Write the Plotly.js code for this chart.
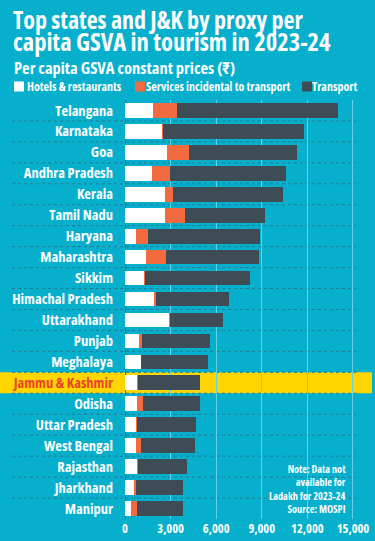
<!DOCTYPE html>
<html>
<head>
<meta charset="utf-8">
<script src="https://cdn.plot.ly/plotly-3.0.1.min.js"></script>
<style>
html,body{margin:0;padding:0;background:#06afcc;}
#chart{width:375px;height:541px;}
text, tspan{font-stretch:condensed !important;}
</style>
</head>
<body>
<div id="chart"></div>
<script>
var categories = ["Telangana","Karnataka","Goa","Andhra Pradesh","Kerala","Tamil Nadu","Haryana","Maharashtra","Sikkim","Himachal Pradesh","Uttarakhand","Punjab","Meghalaya","Jammu & Kashmir","Odisha","Uttar Pradesh","West Bengal","Rajasthan","Jharkhand","Manipur"];
var hotels    = [1850, 2460, 2770, 1800, 2640, 2640, 720, 1360, 1250, 1930, 2900, 920, 1040, 770, 810, 750, 700, 810, 570, 420];
var services  = [1550,   70, 1450, 1140,  500, 1290, 790, 1340,   40,   90,   60, 190,    0,  60, 380,  20, 330,  20, 130, 350];
var transport = [10590, 9260, 7130, 7670, 7270, 5290, 7360, 6130, 6920, 4810, 3470, 4490, 4410, 4110, 3730, 3910, 3580, 3270, 3140, 3070];
var xTicks = [0, 3000, 6000, 9000, 12000, 15000];
var highlight = "Jammu & Kashmir";
var seriesNames = ["Hotels & restaurants", "Services incidental to transport", "Transport"];
var noteLines = ["Note: Data not", "available for", "Ladakh for 2023-24", "Source: MOSPI"];

var FONT = "Open Sans, Roboto Condensed, DejaVu Sans Condensed, sans-serif";
var BG = "#06afcc";
var C_WHITE = "#ffffff", C_ORANGE = "#f26a3f", C_DARK = "#3e4c55";
var colors = [C_WHITE, C_ORANGE, C_DARK];

var W = 375, H = 541, ML = 125, MR = 19, MT = 100, MB = 22;
var PW = W - ML - MR, PH = H - MT - MB;
function px(x){ return (x - ML) / PW; }
function py(y){ return (H - MB - y) / PH; }

var vals = [hotels, services, transport];
var traces = vals.map(function(v, i){
  return {
    type: "bar", orientation: "h",
    y: categories, x: v, name: seriesNames[i],
    marker: {color: colors[i], line: {width: 0}},
    showlegend: false, hoverinfo: "x+y"
  };
});

var ticktext = categories.map(function(c){
  return c === highlight ? '<span style="color:#e8452c">' + c.replace("&","&amp;") + '</span>' : c.replace("&","&amp;");
});

var shapes = [];
var hi = categories.indexOf(highlight);
shapes.push({type:"rect", layer:"below", xref:"paper", yref:"y", x0:px(0), x1:px(372), y0:hi-0.5, y1:hi+0.5, fillcolor:"#ffd500", line:{width:0}});
for (var i = 0; i < categories.length - 1; i++) {
  shapes.push({type:"line", layer:"below", xref:"paper", yref:"y", x0:px(12), x1:1, y0:i+0.5, y1:i+0.5, line:{color:"#1c7f96", width:1, dash:"dot"}});
}
// legend squares
var legX = [14, 135, 302];
var legTX = [26, 145, 311];
for (var k = 0; k < 3; k++) {
  shapes.push({type:"rect", xref:"paper", yref:"paper", x0:px(legX[k]), x1:px(legX[k]+10), y0:py(91.5), y1:py(81.5), fillcolor:colors[k], line:{width:0}});
}

var annotations = [];
function ann(text, x, y, size, opts){
  var a = {text:text, xref:"paper", yref:"paper", x:px(x), y:py(y), xanchor:"left", yanchor:"middle", showarrow:false,
    borderpad:0, font:{family:FONT, size:size, color:"#ffffff", weight:"bold"}};
  for (var kk in opts) a[kk] = opts[kk];
  return a;
}
annotations.push(ann("Top states and J&amp;K by proxy per", 12, 19, 24));
annotations.push(ann("capita GSVA in tourism in 2023-24", 12, 41, 24.5));
annotations.push(ann("Per capita GSVA constant prices (₹)", 13, 67, 16.5));
for (var k2 = 0; k2 < 3; k2++) annotations.push(ann(seriesNames[k2].replace("&","&amp;"), legTX[k2], 86.5, 12));
annotations.push(ann(noteLines.join("<br>"), 347, 489, 10.3, {xanchor:"right", align:"right"}));

var layout = {
  width: W, height: H,
  margin: {l: ML, r: MR, t: MT, b: MB, pad: 0},
  paper_bgcolor: BG, plot_bgcolor: BG,
  barmode: "stack", bargap: 0.3,
  font: {family: FONT, color: "#ffffff"},
  xaxis: {
    range: [0, 15200], tickvals: xTicks, tickformat: ",", showgrid: true,
    gridcolor: "#63d2e6", gridwidth: 1, zeroline: true, zerolinecolor: "#1c7f96", zerolinewidth: 1,
    showline: false, ticks: "", fixedrange: true,
    tickfont: {family: FONT, size: 12.5, color: "#ffffff", weight: "bold"}
  },
  yaxis: {
    type: "category", categoryorder: "array", categoryarray: categories, autorange: "reversed",
    tickvals: categories, ticktext: ticktext, showgrid: false, zeroline: false, showline: false, ticks: "",
    ticklabelstandoff: 11, fixedrange: true,
    tickfont: {family: FONT, size: 14.5, color: "#ffffff", weight: "bold"}
  },
  shapes: shapes,
  annotations: annotations,
  showlegend: false
};

Plotly.newPlot("chart", traces, layout, {displayModeBar: false, staticPlot: true});
</script>
</body>
</html>
